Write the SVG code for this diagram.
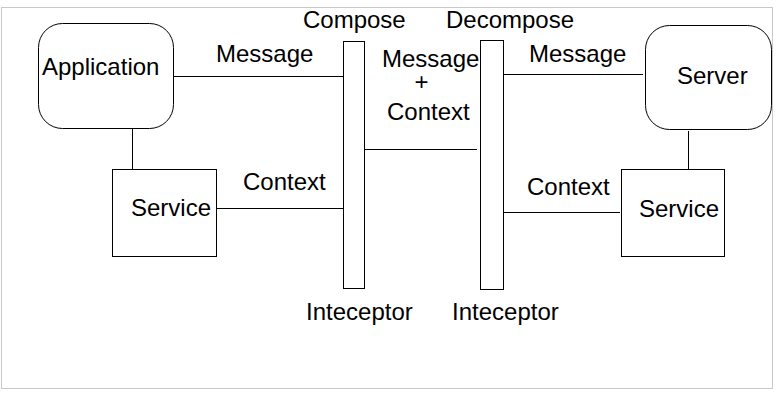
<svg xmlns="http://www.w3.org/2000/svg" width="778" height="394" viewBox="0 0 778 394">
<style>
.b{fill:#fff;stroke:#000;stroke-width:1}
.c{stroke:#000;stroke-width:1;fill:none}
text{font-family:"Liberation Sans",Arial,sans-serif;font-size:24px;fill:#000}
</style>
<rect x="1.5" y="7.5" width="771" height="381" fill="#fff" stroke="#c8c8c8" stroke-width="1"/>
<g id="connectors">
<line class="c" x1="173" y1="76.5" x2="343" y2="76.5"/>
<line class="c" x1="132.5" y1="128" x2="132.5" y2="171"/>
<line class="c" x1="217" y1="208.5" x2="343" y2="208.5"/>
<line class="c" x1="364" y1="149.5" x2="477" y2="149.5"/>
<line class="c" x1="501" y1="74.5" x2="643" y2="74.5"/>
<line class="c" x1="688.5" y1="131" x2="688.5" y2="171"/>
<line class="c" x1="501" y1="212.5" x2="620" y2="212.5"/>
</g>
<g id="application">
<rect class="b" x="38.5" y="23.5" width="135" height="105" rx="24" ry="24"/>
<text x="42" y="75">Application</text>
</g>
<g id="service-left">
<rect class="b" x="112.5" y="169.5" width="104" height="87"/>
<text x="131" y="216">Service</text>
</g>
<g id="compose-interceptor">
<rect class="b" x="343.5" y="41.5" width="21" height="247"/>
<text x="303" y="28">Compose</text>
<text x="306" y="320">Inteceptor</text>
</g>
<g id="decompose-interceptor">
<rect class="b" x="480.5" y="40.5" width="23" height="249"/>
<text x="446" y="28">Decompose</text>
<text x="452" y="320">Inteceptor</text>
</g>
<g id="server">
<rect class="b" x="645.5" y="25.5" width="126" height="104" rx="24" ry="24"/>
<text x="677" y="84">Server</text>
</g>
<g id="service-right">
<rect class="b" x="621.5" y="169.5" width="103" height="87"/>
<text x="639" y="217">Service</text>
</g>
<g id="labels">
<text x="216" y="62">Message</text>
<text x="243" y="190">Context</text>
<text x="382" y="67">Message</text>
<text x="421.5" y="90" text-anchor="middle">+</text>
<text x="387" y="120">Context</text>
<text x="529" y="62">Message</text>
<text x="527" y="195">Context</text>
</g>
</svg>
